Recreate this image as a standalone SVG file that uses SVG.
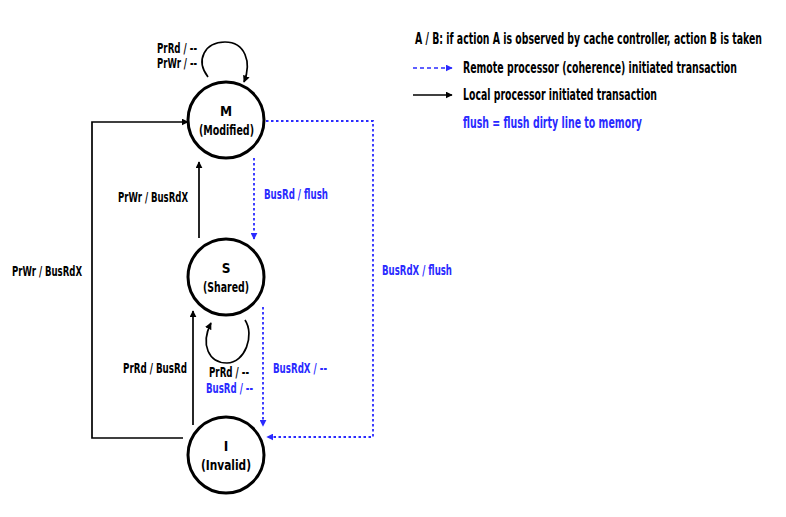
<svg xmlns="http://www.w3.org/2000/svg" width="786" height="517" viewBox="0 0 786 517">
<defs>
<style>
text{font-family:"Liberation Sans Narrow","DejaVu Sans Condensed","Liberation Sans",sans-serif;font-weight:bold;font-size:13.5px;fill:#000}
.b{fill:#2a2aff}
.lg{font-size:15px}
.node{fill:#fff;stroke:#000;stroke-width:3}
.loc{fill:none;stroke:#000;stroke-width:1.7}
.rem{fill:none;stroke:#2a2aff;stroke-width:1.8;stroke-dasharray:2.5 2.5}
</style>
<marker id="ak" viewBox="0 0 10 10" refX="9" refY="5" markerWidth="7" markerHeight="7" orient="auto" markerUnits="userSpaceOnUse"><path d="M0,0L10,5L0,10z" fill="#000"/></marker>
<marker id="ab" viewBox="0 0 10 10" refX="9" refY="5" markerWidth="7" markerHeight="7" orient="auto" markerUnits="userSpaceOnUse"><path d="M0,0L10,5L0,10z" fill="#2a2aff"/></marker>
</defs>
<rect width="786" height="517" fill="#fff"/>
<g id="connectors">
<path class="loc" d="M208,77 C195,60 205,42 225,42 C245,42 252,62 244,82" marker-end="url(#ak)"/>
<path class="loc" d="M199,238 L199,162" marker-end="url(#ak)"/>
<path class="rem" d="M254,158 L254,239" marker-end="url(#ab)"/>
<path class="rem" d="M266,121 L373,121 L373,437 L267,437" marker-end="url(#ab)"/>
<path class="rem" d="M263,307 L263,426" marker-end="url(#ab)"/>
<path class="loc" d="M193,425 L193,311" marker-end="url(#ak)"/>
<path class="loc" d="M245,320 C255,335 245,363 227,363 C209,363 200,345 211,323" marker-end="url(#ak)"/>
<path class="loc" d="M183,438 L92,438 L92,122 L188,122" marker-end="url(#ak)"/>
</g>
<g id="labels">
<text x="157" y="53" textLength="40" lengthAdjust="spacingAndGlyphs">PrRd / --</text>
<text x="157" y="68" textLength="40" lengthAdjust="spacingAndGlyphs">PrWr / --</text>
<text x="118" y="202" textLength="70" lengthAdjust="spacingAndGlyphs">PrWr / BusRdX</text>
<text class="b" x="264" y="199" textLength="64" lengthAdjust="spacingAndGlyphs">BusRd / flush</text>
<text class="b" x="382" y="275" textLength="70" lengthAdjust="spacingAndGlyphs">BusRdX / flush</text>
<text class="b" x="273" y="373" textLength="54" lengthAdjust="spacingAndGlyphs">BusRdX / --</text>
<text x="123" y="373" textLength="64" lengthAdjust="spacingAndGlyphs">PrRd / BusRd</text>
<text x="209" y="377" textLength="40" lengthAdjust="spacingAndGlyphs">PrRd / --</text>
<text class="b" x="206" y="393" textLength="47" lengthAdjust="spacingAndGlyphs">BusRd / --</text>
<text x="12" y="276" textLength="70" lengthAdjust="spacingAndGlyphs">PrWr / BusRdX</text>
</g>
<g id="legend">
<text class="lg" x="415" y="44" textLength="347" lengthAdjust="spacingAndGlyphs">A / B: if action A is observed by cache controller,  action B is taken</text>
<path class="rem" d="M413,68 L452,68" marker-end="url(#ab)" style="stroke-dasharray:4 3;stroke-width:1.6"/>
<text class="lg" x="463" y="73" textLength="274" lengthAdjust="spacingAndGlyphs">Remote processor (coherence) initiated transaction</text>
<path class="loc" d="M413,95 L452,95" marker-end="url(#ak)"/>
<text class="lg" x="463" y="100" textLength="194" lengthAdjust="spacingAndGlyphs">Local processor initiated transaction</text>
<text class="lg b" x="463" y="128" textLength="179" lengthAdjust="spacingAndGlyphs">flush = flush dirty line to memory</text>
</g>
<g id="node-M">
<circle class="node" cx="226" cy="120" r="38"/>
<text x="226" y="116" text-anchor="middle">M</text>
<text x="199" y="135" textLength="55" lengthAdjust="spacingAndGlyphs">(Modified)</text>
</g>
<g id="node-S">
<circle class="node" cx="226" cy="277" r="38"/>
<text x="226" y="273" text-anchor="middle">S</text>
<text x="203" y="292" textLength="46" lengthAdjust="spacingAndGlyphs">(Shared)</text>
</g>
<g id="node-I">
<circle class="node" cx="226" cy="455" r="38"/>
<text x="226" y="451" text-anchor="middle">I</text>
<text x="201" y="470" textLength="50" lengthAdjust="spacingAndGlyphs">(Invalid)</text>
</g>
</svg>
